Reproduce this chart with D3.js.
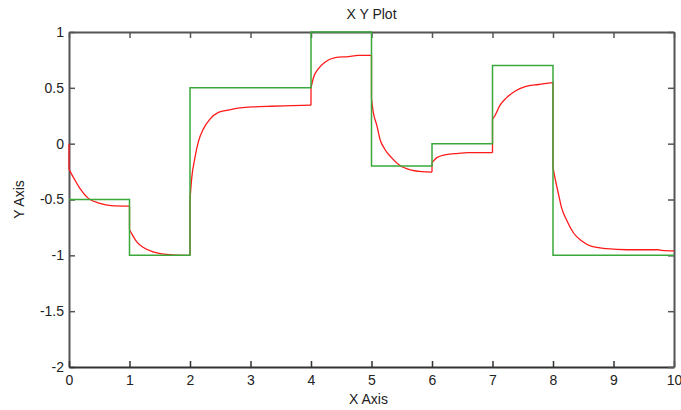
<!DOCTYPE html>
<html>
<head>
<meta charset="utf-8">
<script src="https://cdn.jsdelivr.net/npm/d3@7/dist/d3.min.js"></script>
<style>
  html, body { margin: 0; padding: 0; background: #ffffff; }
  svg { display: block; }
  text { font-family: Arial, "Liberation Sans", sans-serif; fill: #222; }
</style>
</head>
<body>
<svg id="chart" width="681" height="410"></svg>
<script>
// ---- Data ----
const title = "X Y Plot";
const xLabel = "X Axis";
const yLabel = "Y Axis";
const xTicks = [0, 1, 2, 3, 4, 5, 6, 7, 8, 9, 10];
const yTicks = [-2, -1.5, -1, -0.5, 0, 0.5, 1];

// Step input (green): value holds from each x to the next
const stepX = [0, 1, 2, 4, 5, 6, 7, 8, 10];
const stepY = [-0.5, -1, 0.5, 1, -0.2, 0, 0.7, -1, -1];

// Response (red) (repeated x = vertical jump)
const respX = [0, 0, 0.07, 0.18, 0.32, 0.51, 0.70, 1.0,
  1.0, 1.04, 1.12, 1.23, 1.39, 1.56, 1.71, 2.0,
  2.0, 2.03, 2.08, 2.14, 2.22, 2.33, 2.47, 2.63, 2.83, 3.07, 3.35, 3.68, 4.0,
  4.0, 4.04, 4.12, 4.23, 4.40, 4.62, 4.78, 5.0,
  5.0, 5.03, 5.09, 5.14, 5.22, 5.33, 5.47, 5.66, 5.83, 6.0,
  6.0, 6.08, 6.21, 6.38, 6.60, 7.0,
  7.0, 7.04, 7.12, 7.23, 7.37, 7.54, 7.76, 8.0,
  8.0, 8.03, 8.09, 8.14, 8.23, 8.34, 8.47, 8.64, 8.89, 9.22, 9.74, 9.80, 10];
const respY = [0, -0.23, -0.30, -0.40, -0.49, -0.535, -0.555, -0.56,
  -0.77, -0.81, -0.88, -0.93, -0.97, -0.99, -0.995, -1.0,
  -0.5, -0.30, -0.13, 0.02, 0.13, 0.22, 0.28, 0.30, 0.32, 0.33, 0.335, 0.34, 0.345,
  0.50, 0.59, 0.67, 0.73, 0.77, 0.78, 0.79, 0.79,
  0.40, 0.28, 0.16, 0.04, -0.05, -0.125, -0.195, -0.236, -0.25, -0.254,
  -0.17, -0.125, -0.10, -0.09, -0.08, -0.08,
  0.22, 0.25, 0.34, 0.41, 0.47, 0.51, 0.53, 0.547,
  -0.215, -0.30, -0.45, -0.57, -0.69, -0.80, -0.87, -0.92, -0.94, -0.95, -0.95, -0.955, -0.96];

// ---- Layout ----
const svg = d3.select("#chart");
const L = 69, R = 674, T = 32, B = 367;

const x = d3.scaleLinear().domain([0, 10]).range([L, R]);
const y = d3.scaleLinear().domain([-2, 1]).range([B, T]);

const frameColor = "#555";

// Left axis
const gl = svg.append("g").attr("transform", `translate(${L},0)`)
  .call(d3.axisLeft(y).tickValues(yTicks).tickFormat(d => String(d))
    .tickSizeInner(-6).tickSizeOuter(0).tickPadding(5));
// Bottom axis
const gb = svg.append("g").attr("transform", `translate(0,${B})`)
  .call(d3.axisBottom(x).tickValues(xTicks).tickFormat(d => String(d))
    .tickSizeInner(-6).tickSizeOuter(0).tickPadding(8));
// Top axis (ticks only)
const gt = svg.append("g").attr("transform", `translate(0,${T})`)
  .call(d3.axisTop(x).tickValues(xTicks).tickFormat("")
    .tickSizeInner(-6).tickSizeOuter(0));
// Right axis (ticks only)
const gr = svg.append("g").attr("transform", `translate(${R},0)`)
  .call(d3.axisRight(y).tickValues(yTicks).tickFormat("")
    .tickSizeInner(-6).tickSizeOuter(0));

[gl, gt, gr].forEach(g => {
  g.select(".domain").attr("stroke", frameColor).attr("stroke-width", 2);
  g.selectAll(".tick line").attr("stroke", frameColor).attr("stroke-width", 1.5);
});
gb.select(".domain").attr("stroke", "#333").attr("stroke-width", 2);
gb.selectAll(".tick line").attr("stroke", "#333").attr("stroke-width", 1.5);

[gl, gb].forEach(g => {
  g.selectAll(".tick text")
    .attr("font-family", "Arial, 'Liberation Sans', sans-serif")
    .attr("font-size", 14)
    .attr("fill", "#222");
});

// Lines
const respData = respX.map((d, i) => [d, respY[i]]);
const stepData = stepX.map((d, i) => [d, stepY[i]]);

// Split the response into smooth pieces at repeated x values (jumps)
const pieces = [];
const jumps = [];
let cur = [respData[0]];
for (let i = 1; i < respData.length; i++) {
  if (respData[i][0] === respData[i - 1][0]) {
    jumps.push([respData[i - 1], respData[i]]);
    if (cur.length > 1) pieces.push(cur);
    cur = [respData[i]];
  } else {
    cur.push(respData[i]);
  }
}
if (cur.length > 1) pieces.push(cur);

const smooth = d3.line().x(d => x(d[0])).y(d => y(d[1])).curve(d3.curveMonotoneX);
const straight = d3.line().x(d => x(d[0])).y(d => y(d[1]));

const gRed = svg.append("g")
  .attr("fill", "none")
  .attr("stroke", "#ff1a1a")
  .attr("stroke-width", 1.3)
  .attr("stroke-linejoin", "round");

gRed.selectAll("path.piece").data(pieces).join("path")
  .attr("class", "piece").attr("d", smooth);
gRed.selectAll("path.jump").data(jumps).join("path")
  .attr("class", "jump").attr("d", straight);

svg.append("path")
  .datum(stepData)
  .attr("fill", "none")
  .attr("stroke", "#3aa83a")
  .attr("stroke-width", 1.5)
  .attr("d", d3.line().x(d => x(d[0])).y(d => y(d[1])).curve(d3.curveStepAfter));

// Titles
svg.append("text")
  .attr("x", (L + R) / 2).attr("y", 19)
  .attr("text-anchor", "middle")
  .attr("font-size", 14)
  .text(title);

svg.append("text")
  .attr("x", (L + R) / 2 - 3).attr("y", 404)
  .attr("text-anchor", "middle")
  .attr("font-size", 14)
  .text(xLabel);

svg.append("text")
  .attr("transform", `translate(24,${(T + B) / 2}) rotate(-90)`)
  .attr("text-anchor", "middle")
  .attr("font-size", 14)
  .text(yLabel);
</script>
</body>
</html>
